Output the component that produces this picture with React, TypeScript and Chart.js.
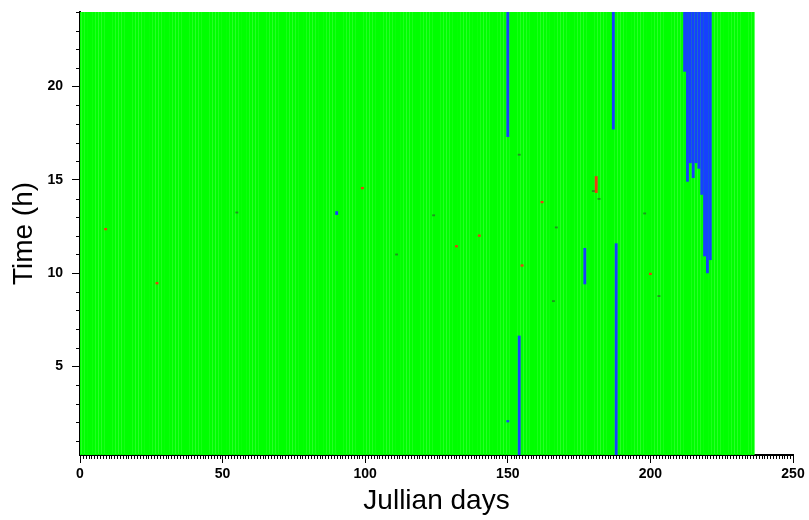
import React, { useEffect, useRef } from 'react';
import { Chart, registerables } from 'chart.js';

Chart.register(...registerables);

// Axis ranges and tick labels
const X_MIN = 0;
const X_MAX = 250;
const Y_MIN = 0.25;
const Y_MAX = 24;
const xTickValues = [0, 50, 100, 150, 200, 250];
const yTickValues = [5, 10, 15, 20];

// Days with data (green background = normal state)
const firstDay = 0;
const lastDay = 236;

// Blue segments (state 2)
const blueDays = [150, 187, 154, 177, 188, 212, 213, 214, 215, 216, 217, 218, 219, 220, 221, 90, 150];
const blueFrom = [17.3, 17.7, 0.25, 9.4, 0.25, 20.8, 14.9, 15.9, 15.1, 15.9, 15.6, 14.2, 10.9, 10.0, 10.7, 13.12, 2.0];
const blueTo = [24, 24, 6.65, 11.35, 11.6, 24, 24, 24, 24, 24, 24, 24, 24, 24, 24, 13.32, 2.12];

// Red marks (state 3)
const redDays = [9, 27, 99, 132, 140, 155, 162, 181, 200];
const redFrom = [12.3, 9.4, 14.5, 11.38, 11.95, 10.35, 13.75, 14.3, 9.9];
const redTo = [12.42, 9.52, 14.62, 11.5, 12.07, 10.47, 13.87, 15.2, 10.02];

// Dark green marks (state 4)
const darkDays = [55, 111, 124, 154, 166, 167, 180, 182, 198, 203];
const darkFrom = [13.2, 10.95, 13.05, 16.3, 8.45, 12.4, 14.35, 13.93, 13.15, 8.72];
const darkTo = [13.3, 11.05, 13.15, 16.4, 8.55, 12.5, 14.45, 14.03, 13.25, 8.82];

const toBars = (days: number[], from: number[], to: number[]) =>
  days.map((d, i) => ({ x: d, y: [from[i], to[i]] }));

const greenBars: { x: number; y: number[] }[] = [];
for (let d = firstDay; d <= lastDay; d++) greenBars.push({ x: d, y: [Y_MIN, Y_MAX] });

const minorTicks = {
  id: 'minorTicks',
  afterDraw(chart: any) {
    const { ctx, chartArea } = chart;
    const x = chart.scales.x;
    const y = chart.scales.y;
    ctx.save();
    ctx.strokeStyle = '#000';
    ctx.lineWidth = 1;
    ctx.beginPath();
    for (let v = X_MIN + 1; v < X_MAX; v++) {
      if (v % 50 === 0) continue;
      const px = Math.round(x.getPixelForValue(v)) + 0.5;
      ctx.moveTo(px, chartArea.bottom);
      ctx.lineTo(px, chartArea.bottom + 4);
    }
    for (let v = 1; v <= Y_MAX; v++) {
      if (v % 5 === 0) continue;
      const py = Math.round(y.getPixelForValue(v)) + 0.5;
      ctx.moveTo(chartArea.left - 4, py);
      ctx.lineTo(chartArea.left, py);
    }
    ctx.stroke();
    ctx.restore();
  },
};

const tickFont = { family: '"Liberation Sans", Arial, sans-serif', size: 14, weight: 'bold' as const };
const titleFont = { family: '"Liberation Sans", Arial, sans-serif', size: 28, weight: 'normal' as const };

export default function App() {
  const canvasRef = useRef<HTMLCanvasElement | null>(null);

  useEffect(() => {
    document.body.style.margin = '0';
    const canvas = canvasRef.current;
    if (!canvas) return;
    const common = { grouped: false, categoryPercentage: 1, barPercentage: 1, borderWidth: 0, inflateAmount: 0 };
    const chart = new Chart(canvas, {
      type: 'bar',
      data: {
        datasets: [
          { ...common, label: 'red', data: toBars(redDays, redFrom, redTo) as any, backgroundColor: 'rgb(235,60,15)' },
          { ...common, label: 'dark', data: toBars(darkDays, darkFrom, darkTo) as any, backgroundColor: 'rgb(30,150,30)' },
          { ...common, label: 'blue', data: toBars(blueDays, blueFrom, blueTo) as any, backgroundColor: 'rgb(22,64,255)' },
          { ...common, inflateAmount: 0.1, label: 'green', data: greenBars as any, backgroundColor: 'rgb(0,255,0)' },
        ] as any,
      },
      options: {
        animation: false,
        responsive: false,
        devicePixelRatio: 1,
        layout: { padding: { top: 12, right: 16, left: 0, bottom: 0 } },
        plugins: { legend: { display: false }, tooltip: { enabled: false } },
        scales: {
          x: {
            type: 'linear',
            min: X_MIN,
            max: X_MAX,
            offset: false,
            afterBuildTicks: (s: any) => { s.ticks = xTickValues.map((v) => ({ value: v })); },
            afterFit: (s: any) => { s.height = 65; s.paddingLeft = 0; s.paddingRight = 0; },
            grid: { display: true, drawOnChartArea: false, drawTicks: true, tickLength: 8, tickColor: '#000', offset: false },
            border: { display: true, color: '#000', width: 2 },
            ticks: { font: tickFont, color: '#000', padding: 3, maxRotation: 0, autoSkip: false },
            title: { display: true, text: 'Jullian days', font: titleFont, color: '#000', padding: { top: 0, bottom: 2 } },
          },
          y: {
            type: 'linear',
            min: Y_MIN,
            max: Y_MAX,
            afterBuildTicks: (s: any) => { s.ticks = yTickValues.map((v) => ({ value: v })); },
            afterFit: (s: any) => { s.width = 80; s.paddingTop = 0; s.paddingBottom = 0; },
            grid: { display: true, drawOnChartArea: false, drawTicks: true, tickLength: 8, tickColor: '#000' },
            border: { display: true, color: '#000', width: 2 },
            ticks: { font: tickFont, color: '#000', padding: 9, autoSkip: false },
            title: { display: true, text: 'Time (h)', font: titleFont, color: '#000', padding: { top: 7, bottom: 0 } },
          },
        },
      } as any,
      plugins: [minorTicks],
    });
    return () => chart.destroy();
  }, []);

  return (
    <div style={{ width: 809, height: 520 }}>
      <canvas ref={canvasRef} width={809} height={520} style={{ display: 'block' }} />
    </div>
  );
}
